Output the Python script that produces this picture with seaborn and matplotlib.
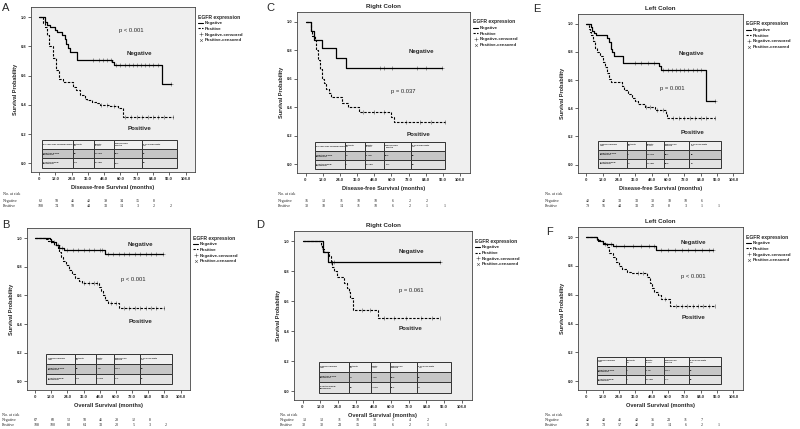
import numpy as np
import pandas as pd
import matplotlib
matplotlib.use("Agg")
import matplotlib.pyplot as plt
import matplotlib.transforms as mtransforms
from matplotlib.lines import Line2D
import seaborn as sns

# ---- data (time in months, survival probability) ----
months = [0, 12, 24, 36, 48, 60, 72, 84, 96]

# A: disease-free survival, all patients
a_neg_t = [0, 4, 6, 8, 12, 13, 17, 19, 20, 21.5, 23, 28, 54, 55.5, 91, 97]
a_neg_s = [1.0, 0.97, 0.95, 0.93, 0.91, 0.90, 0.88, 0.85, 0.82, 0.79, 0.76, 0.71, 0.69, 0.67, 0.54, 0.54]
a_pos_t = [0, 2.5, 4, 5.8, 7.5, 10, 12.5, 15, 17.5, 25, 27, 30, 33.5, 35, 38.8, 42.5, 45, 52, 58.5, 61.8, 98.7]
a_pos_s = [1.0, 0.96, 0.93, 0.88, 0.80, 0.72, 0.64, 0.58, 0.555, 0.52, 0.50, 0.47, 0.44, 0.43, 0.42, 0.41, 0.40, 0.39, 0.38, 0.32, 0.32]
a_neg_cens = [40, 44, 47, 50, 53, 57, 60, 63, 66, 69, 72, 75, 78, 81, 84, 88, 97]
a_pos_cens = [46, 50, 55, 63, 68, 72, 76, 80, 84, 88, 92, 98.7]
a_risk_neg = [62, 58, 46, 40, 39, 34, 15, 8]
a_risk_pos = [108, 74, 58, 44, 33, 14, 3, 2, 2]
a_tab_neg = ["68", "21 (30)", "89.1", "67"]
a_tab_pos = ["108", "67 (62)", "24.7", "33"]

# C: disease-free survival, right colon
c_neg_t = [0, 4.1, 6, 11.4, 21.2, 28, 95.4]
c_neg_s = [1.0, 0.94, 0.875, 0.815, 0.75, 0.68, 0.68]
c_pos_t = [0, 4, 4.5, 6.4, 7, 8.7, 9.8, 11.4, 13.2, 14.4, 16.7, 17.8, 25.8, 30, 37.2, 60, 61.6, 97.3]
c_pos_s = [1.0, 0.93, 0.90, 0.87, 0.80, 0.73, 0.67, 0.60, 0.57, 0.53, 0.50, 0.47, 0.43, 0.40, 0.365, 0.33, 0.30, 0.30]
c_neg_cens = [52, 55, 60.5, 78, 84, 95.4]
c_pos_cens = [40, 48, 55, 70, 80, 88, 97.3]
c_risk_neg = [16, 13, 11, 10, 10, 6, 2, 2]
c_risk_pos = [30, 18, 14, 11, 10, 6, 2, 1, 1]
c_tab_neg = ["16", "5 (31)", "89.5", "68"]
c_tab_pos = ["30", "20 (67)", "14.7", "30"]

# E: disease-free survival, left colon
e_neg_t = [0, 3.4, 4.5, 5.6, 7.4, 15.3, 17, 18, 19, 20.3, 27, 53.5, 54.5, 88.2, 94.5]
e_neg_s = [1.0, 0.975, 0.95, 0.935, 0.92, 0.90, 0.87, 0.82, 0.80, 0.77, 0.72, 0.70, 0.67, 0.45, 0.45]
e_pos_t = [0, 2.2, 3, 3.8, 5, 6.3, 7.9, 10, 12.4, 13.5, 15.3, 16.9, 18, 25.9, 28, 31, 33.8, 36, 38.3, 42.8, 50.6, 58.5, 59.6, 94.5]
e_pos_s = [1.0, 0.96, 0.94, 0.92, 0.88, 0.83, 0.80, 0.77, 0.73, 0.69, 0.65, 0.61, 0.59, 0.56, 0.53, 0.50, 0.47, 0.45, 0.43, 0.41, 0.385, 0.36, 0.33, 0.33]
e_neg_cens = [36, 40, 45, 50, 56, 60, 63, 66, 69, 72, 75, 78, 81, 84, 94.5]
e_pos_cens = [44, 47, 52, 56, 64, 68, 72, 76, 80, 84, 88, 94.5]
e_risk_neg = [40, 40, 33, 33, 30, 18, 10, 6]
e_risk_pos = [79, 56, 44, 33, 22, 8, 3, 1, 1]
e_tab_neg = ["40", "16 (40)", "68.7", "68"]
e_tab_pos = ["79", "47 (59)", "28.9", "34"]

# B: overall survival, all patients
b_neg_t = [0, 10.8, 11.5, 13.2, 15.6, 18, 21.6, 52, 94.8]
b_neg_s = [1.0, 0.99, 0.98, 0.97, 0.95, 0.93, 0.915, 0.89, 0.89]
b_pos_t = [0, 8.4, 9.6, 12, 14.4, 16.8, 18, 19.2, 20.4, 22.8, 25.2, 27.6, 30, 32.4, 34.8, 47.5, 49, 50.4, 52, 54, 62.4, 96]
b_pos_s = [1.0, 0.99, 0.98, 0.97, 0.95, 0.93, 0.90, 0.87, 0.84, 0.81, 0.78, 0.75, 0.72, 0.70, 0.687, 0.66, 0.63, 0.60, 0.57, 0.547, 0.51, 0.51]
b_neg_cens = [12, 14, 17, 20, 24, 28, 32, 36, 40, 44, 48, 50, 54, 58, 62, 66, 70, 74, 78, 82, 86, 90, 94.8]
b_pos_cens = [36, 40, 44, 46, 56, 60, 66, 70, 74, 78, 82, 86, 90, 96]
b_risk_neg = [67, 60, 52, 50, 46, 28, 12, 8]
b_risk_pos = [108, 100, 80, 64, 33, 20, 5, 3, 2]
b_tab_neg = ["68", "6 (9)", "103.1", "89"]
b_tab_pos = ["108", "43 (40)", "77.1", "51"]

# D: overall survival, right colon
d_neg_t = [0, 13.8, 17.1, 93.5]
d_neg_s = [1.0, 0.93, 0.86, 0.86]
d_pos_t = [0, 12.2, 13, 14.5, 17.8, 18.9, 19.6, 21.2, 23.4, 27.8, 30, 31.2, 32.3, 33.8, 51.2, 93.5]
d_pos_s = [1.0, 0.97, 0.95, 0.93, 0.90, 0.87, 0.83, 0.80, 0.76, 0.72, 0.69, 0.66, 0.62, 0.545, 0.49, 0.49]
d_neg_cens = [19, 21, 93.5]
d_pos_cens = [40, 46, 55, 62, 70, 80, 88, 93.5]
d_risk_neg = [13, 13, 11, 10, 10, 5, 4, 2]
d_risk_pos = [30, 30, 23, 15, 14, 6, 2, 1, 1]
d_tab_neg = ["14", "2 (14)", "93.5", "86"]
d_tab_pos = ["30", "14 (47)", "55.1", "49"]

# F: overall survival, left colon
f_neg_t = [0, 8, 9, 10.2, 12.5, 19.3, 51, 93]
f_neg_s = [1.0, 0.99, 0.98, 0.97, 0.95, 0.935, 0.908, 0.908]
f_pos_t = [0, 8, 9, 12.5, 15.2, 17, 19.3, 21.6, 23.9, 26, 29.6, 33, 44.3, 46.6, 48.4, 50, 52.3, 54.6, 61.4, 94.4]
f_pos_s = [1.0, 0.98, 0.97, 0.96, 0.93, 0.89, 0.86, 0.83, 0.80, 0.78, 0.76, 0.75, 0.72, 0.68, 0.65, 0.62, 0.60, 0.57, 0.52, 0.52]
f_neg_cens = [14, 18, 22, 28, 34, 40, 46, 50, 55, 60, 65, 70, 75, 80, 85, 90, 93]
f_pos_cens = [38, 42, 58, 66, 70, 74, 78, 82, 86, 90, 94.4]
f_risk_neg = [40, 40, 41, 40, 36, 23, 11, 7]
f_risk_pos = [78, 73, 57, 40, 30, 14, 6, 2, 1]
f_tab_neg = ["40", "3 (8)", "103.1", "91"]
f_tab_pos = ["78", "27 (35)", "77.7", "52"]

dfs_head = ["Disease-free Survival (DFS)", "Patients\nN", "Events\nn (%)", "Median DFS\nmonths", "5-year DFS Rate\n(%)"]
os_head = ["Overall Survival\n(OS)", "Patients\nN", "Events\nn (%)", "Median OS\nmonths", "5-year OS Rate\n(%)"]

# ---- style ----
sns.set_theme(style="white")
plt.rcParams["font.family"] = ["Liberation Sans", "DejaVu Sans"]
W, H = 800, 429
XLIM = (-6, 115)
YLIM = (-0.06, 1.07)
BG = "#efefef"

fig = plt.figure(figsize=(8, 4.29), dpi=100)


def step_value(t, s, x):
    idx = np.searchsorted(np.array(t), x, side="right") - 1
    return np.array(s)[idx]


def panel(rect, letter, letter_xy, title, xlabel, nt, ns, pt, ps, nc, pc,
          rneg, rpos, risk_x, risk_y, tneg, tpos, head, pval, pxy, negxy, posxy, tab):
    l, t, r, b = rect
    ax = fig.add_axes([l / W, 1 - b / H, (r - l) / W, (b - t) / H])
    ax.set_facecolor(BG)
    neg = pd.DataFrame({"t": nt, "s": ns})
    pos = pd.DataFrame({"t": pt, "s": ps})
    sns.lineplot(data=neg, x="t", y="s", drawstyle="steps-post", color="black",
                 lw=0.9, ax=ax, estimator=None)
    sns.lineplot(data=pos, x="t", y="s", drawstyle="steps-post", color="black",
                 lw=0.8, ax=ax, estimator=None, linestyle=(0, (2.2, 1.3)))
    cn = pd.DataFrame({"t": nc, "s": step_value(nt, ns, nc)})
    cp = pd.DataFrame({"t": pc, "s": step_value(pt, ps, pc)})
    sns.scatterplot(data=cn, x="t", y="s", marker="+", s=9, color="#555555",
                    linewidth=0.4, ax=ax)
    sns.scatterplot(data=cp, x="t", y="s", marker="|", s=6, color="#555555",
                    linewidth=0.4, ax=ax)

    ax.set_xlim(*XLIM)
    ax.set_ylim(*YLIM)
    ax.set_xticks(range(0, 109, 12))
    ax.set_xticklabels([".0"] + [f"{v}.0" for v in range(12, 109, 12)],
                       fontsize=2.9, fontweight="bold")
    ax.set_yticks(np.arange(0, 1.01, 0.2))
    ax.set_yticklabels([f"{v:.1f}" for v in np.arange(0, 1.01, 0.2)],
                       fontsize=2.9, fontweight="bold")
    ax.tick_params(length=2, width=0.5, pad=1.5, direction="out", bottom=True, left=True)
    for sp in ax.spines.values():
        sp.set_linewidth(0.6)
        sp.set_color("#444444")
    ax.set_xlabel(xlabel, fontsize=4.1, fontweight="bold", labelpad=3)
    ax.set_ylabel("Survival Probability", fontsize=4.0, fontweight="bold", labelpad=2)
    if title:
        ax.set_title(title, fontsize=4.4, fontweight="bold", pad=3)

    ax.text(pxy[0], pxy[1], pval, fontsize=4.2, ha="center", va="center")
    ax.text(negxy[0], negxy[1], "Negative", fontsize=4.4, fontweight="bold", ha="center", va="center")
    ax.text(posxy[0], posxy[1], "Positive", fontsize=4.4, fontweight="bold", ha="center", va="center")

    # summary table inside the plot
    x0 = (tab[0] - XLIM[0]) / (XLIM[1] - XLIM[0])
    x1 = (tab[1] - XLIM[0]) / (XLIM[1] - XLIM[0])
    y0 = (tab[2] - YLIM[0]) / (YLIM[1] - YLIM[0])
    y1 = (tab[3] - YLIM[0]) / (YLIM[1] - YLIM[0])
    cells = [head,
             ["Negative EGFR\nexpression"] + tneg,
             ["Positive EGFR\nexpression"] + tpos]
    colours = [[BG] * 5, ["#c6c6c6"] * 5, ["#e2e2e2"] * 5]
    tb = ax.table(cellText=cells, cellColours=colours, cellLoc="left",
                  bbox=[x0, y0, x1 - x0, y1 - y0],
                  colWidths=[0.23, 0.16, 0.146, 0.205, 0.26])
    tb.auto_set_font_size(False)
    for (i, j), cell in tb.get_celld().items():
        cell.set_linewidth(0.7)
        cell.set_edgecolor("#333333")
        cell.get_text().set_fontsize(1.6)
        cell.get_text().set_fontweight("bold")
        cell.PAD = 0.04

    # legend
    handles = [Line2D([0], [0], color="black", lw=0.8, label="Negative"),
               Line2D([0], [0], color="black", lw=0.8, ls=(0, (2, 1.2)), label="Positive"),
               Line2D([0], [0], color="#555555", lw=0, marker="+", ms=3, mew=0.4, label="Negative-censored"),
               Line2D([0], [0], color="#555555", lw=0, marker="x", ms=2, mew=0.4, label="Positive-censored")]
    leg = ax.legend(handles=handles, loc="upper left", bbox_to_anchor=(1.0, 0.97),
                    frameon=False, title="EGFR expression",
                    prop={"weight": "bold", "size": 3.2},
                    title_fontproperties={"weight": "bold", "size": 3.6},
                    handlelength=1.3, handletextpad=0.3, labelspacing=0.35,
                    borderaxespad=0.2)
    leg._legend_box.align = "left"

    # numbers at risk
    tr = mtransforms.blended_transform_factory(ax.transData, fig.transFigure)
    fy = lambda py: 1 - py / H
    fig.text(risk_x / W, fy(risk_y[0]), "No. at risk", fontsize=3.0, family="Liberation Serif", va="center")
    fig.text(risk_x / W, fy(risk_y[1]), "Negative", fontsize=3.0, family="Liberation Serif", va="center")
    fig.text(risk_x / W, fy(risk_y[2]), "Positive", fontsize=3.0, family="Liberation Serif", va="center")
    for m, v in zip(months, rneg):
        ax.text(m + 1, fy(risk_y[1]), str(v), transform=tr, fontsize=3.0,
                family="Liberation Serif", ha="center", va="center", clip_on=False)
    for m, v in zip(months, rpos):
        ax.text(m + 1, fy(risk_y[2]), str(v), transform=tr, fontsize=3.0,
                family="Liberation Serif", ha="center", va="center", clip_on=False)

    fig.text(letter_xy[0] / W, 1 - letter_xy[1] / H, letter, fontsize=8, va="center")
    return ax


top_risk = (194, 201, 206)
bot_risk = (415, 420, 425)

panel((31, 7, 195, 172), "A", (2, 8), None, "Disease-free Survival (months)",
      a_neg_t, a_neg_s, a_pos_t, a_pos_s, a_neg_cens, a_pos_cens,
      a_risk_neg, a_risk_pos, 3, top_risk, a_tab_neg, a_tab_pos, dfs_head,
      "p < 0.001", (68, 0.91), (74, 0.75), (74, 0.24), (1.8, 101.6, -0.03, 0.16))
panel((297, 12, 470, 173), "C", (266, 8), "Right Colon", "Disease-free Survival (months)",
      c_neg_t, c_neg_s, c_pos_t, c_pos_s, c_neg_cens, c_pos_cens,
      c_risk_neg, c_risk_pos, 278, top_risk, c_tab_neg, c_tab_pos, dfs_head,
      "p = 0.037", (68, 0.51), (81, 0.79), (79, 0.21), (6.4, 97.3, -0.035, 0.16))
panel((578, 14, 743, 173), "E", (533, 9), "Left Colon", "Disease-free Survival (months)",
      e_neg_t, e_neg_s, e_pos_t, e_pos_s, e_neg_cens, e_pos_cens,
      e_risk_neg, e_risk_pos, 545, top_risk, e_tab_neg, e_tab_pos, os_head,
      "p = 0.001", (63, 0.544), (77, 0.79), (78, 0.23), (9, 99, -0.023, 0.17))
panel((27, 228, 190, 390), "B", (2, 225), None, "Overall Survival (months)",
      b_neg_t, b_neg_s, b_pos_t, b_pos_s, b_neg_cens, b_pos_cens,
      b_risk_neg, b_risk_pos, 2, bot_risk, b_tab_neg, b_tab_pos, os_head,
      "p < 0.001", (73, 0.71), (78, 0.955), (78, 0.415), (8.4, 102, -0.016, 0.19))
panel((294, 231, 472, 400), "D", (256, 225), "Right Colon", "Overall Survival (months)",
      d_neg_t, d_neg_s, d_pos_t, d_pos_s, d_neg_cens, d_pos_cens,
      d_risk_neg, d_risk_pos, 280, bot_risk, d_tab_neg, d_tab_pos, os_head,
      "p = 0.061", (73.5, 0.67), (73.5, 0.93), (73.5, 0.415), (11, 101, -0.01, 0.196))
panel((578, 227, 743, 390), "F", (546, 232), "Left Colon", "Overall Survival (months)",
      f_neg_t, f_neg_s, f_pos_t, f_pos_s, f_neg_cens, f_pos_cens,
      f_risk_neg, f_risk_pos, 545, bot_risk, f_tab_neg, f_tab_pos, os_head,
      "p < 0.001", (78.5, 0.73), (78.5, 0.96), (78.5, 0.44), (8, 99, -0.02, 0.17))

fig.savefig("out.png", dpi=100, facecolor="white")
